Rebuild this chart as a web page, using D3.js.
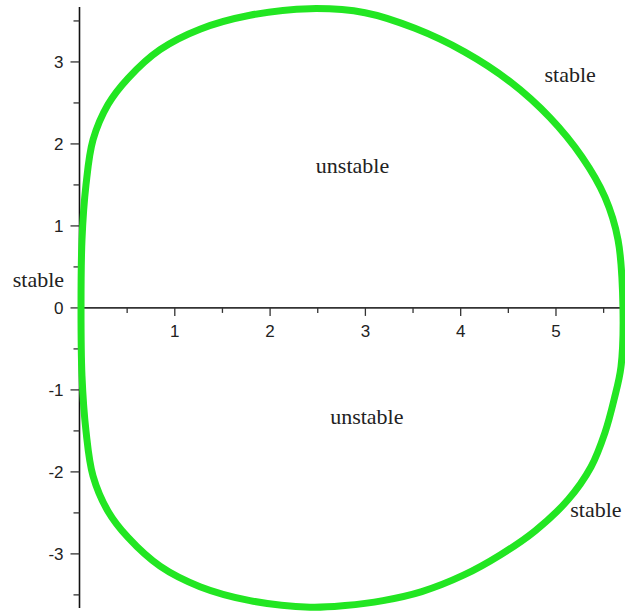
<!DOCTYPE html>
<html>
<head>
<meta charset="utf-8">
<script src="https://cdn.jsdelivr.net/npm/d3@7"></script>
<style>
  html, body { margin: 0; padding: 0; background: #fff; overflow: hidden; }
  svg { display: block; }
  .tick-label { font-family: "Liberation Sans", Arial, sans-serif; font-size: 17px; fill: #222; }
  .region-label { font-family: "Liberation Serif", "Times New Roman", serif; font-size: 22px; fill: #222; }
</style>
</head>
<body>
<svg id="chart" width="625" height="615"></svg>
<script>
// Boundary of the stability region: upper arc left to right, then lower arc right to left
const boundaryX = [
  0.016, 0.026, 0.068, 0.142, 0.299, 0.509, 0.845, 1.264, 1.789, 2.419, 2.996,
  3.520, 4.045, 4.517, 4.937, 5.273, 5.514, 5.651, 5.703,
  5.682, 5.609, 5.514, 5.367, 5.126, 4.780, 4.419, 4.029, 3.592, 3.185, 2.786,
  2.419, 1.789, 1.264, 0.845, 0.509, 0.299, 0.142, 0.068, 0.026
];
const boundaryY = [
  0.00, 0.83, 1.50, 2.05, 2.48, 2.80, 3.15, 3.40, 3.57, 3.65, 3.60,
  3.41, 3.12, 2.76, 2.32, 1.84, 1.35, 0.83, 0.00,
  -0.72, -1.12, -1.52, -1.94, -2.34, -2.72, -3.01, -3.26, -3.46, -3.57, -3.63,
  -3.65, -3.57, -3.40, -3.15, -2.80, -2.48, -2.05, -1.50, -0.83
];

// Axis ticks
const xMajorTicks = [1, 2, 3, 4, 5];
const xMajorLabels = ["1", "2", "3", "4", "5"];
const xMinorTicks = [0.5, 1.5, 2.5, 3.5, 4.5, 5.5];
const yMajorTicks = [-3, -2, -1, 0, 1, 2, 3];
const yMajorLabels = ["-3", "-2", "-1", "0", "1", "2", "3"];
const yMinorTicks = [-3.5, -2.5, -1.5, -0.5, 0.5, 1.5, 2.5, 3.5];

// Region annotations
const regionText = ["stable", "unstable", "stable", "unstable", "stable"];
const regionX = [4.88, 2.48, -0.7, 2.63, 5.15];
const regionY = [2.75, 1.65, 0.25, -1.42, -2.55];

const svg = d3.select("#chart");

const x = d3.scaleLinear().domain([0, 5.72]).range([79.5, 624.6]);
const y = d3.scaleLinear().domain([-3.66, 3.67]).range([608, 7]);

const axisColor = "#333";

// Horizontal axis
const xAxis = svg.append("g").attr("transform", `translate(0,${y(0)})`);
xAxis.append("line")
  .attr("x1", x(0)).attr("x2", 625)
  .attr("stroke", axisColor).attr("stroke-width", 1.6);
xAxis.selectAll("line.major").data(xMajorTicks).join("line")
  .attr("class", "major")
  .attr("x1", d => x(d)).attr("x2", d => x(d))
  .attr("y1", 0).attr("y2", 8)
  .attr("stroke", axisColor).attr("stroke-width", 1.3);
xAxis.selectAll("line.minor").data(xMinorTicks).join("line")
  .attr("class", "minor")
  .attr("x1", d => x(d)).attr("x2", d => x(d))
  .attr("y1", 0).attr("y2", 5)
  .attr("stroke", axisColor).attr("stroke-width", 1.3);
xAxis.selectAll("text").data(xMajorTicks).join("text")
  .attr("class", "tick-label")
  .attr("x", d => x(d)).attr("y", 29)
  .attr("text-anchor", "middle")
  .text((d, i) => xMajorLabels[i]);

// Vertical axis
const yAxis = svg.append("g").attr("transform", `translate(${x(0)},0)`);
yAxis.append("line")
  .attr("y1", y(3.67)).attr("y2", y(-3.66))
  .attr("stroke", "#111").attr("stroke-width", 1.6);
yAxis.selectAll("line.major").data(yMajorTicks).join("line")
  .attr("class", "major")
  .attr("y1", d => y(d)).attr("y2", d => y(d))
  .attr("x1", -9).attr("x2", 0)
  .attr("stroke", axisColor).attr("stroke-width", 1.3);
yAxis.selectAll("line.minor").data(yMinorTicks).join("line")
  .attr("class", "minor")
  .attr("y1", d => y(d)).attr("y2", d => y(d))
  .attr("x1", -6).attr("x2", 0)
  .attr("stroke", axisColor).attr("stroke-width", 1.3);
yAxis.selectAll("text").data(yMajorTicks).join("text")
  .attr("class", "tick-label")
  .attr("x", -16).attr("y", d => y(d) + 6)
  .attr("text-anchor", "end")
  .text((d, i) => yMajorLabels[i]);

// Stability boundary curve
const pts = boundaryX.map((v, i) => [v, boundaryY[i]]);
const line = d3.line()
  .x(d => x(d[0])).y(d => y(d[1]))
  .curve(d3.curveCatmullRomClosed.alpha(0.5));
svg.append("path")
  .attr("d", line(pts))
  .attr("fill", "none")
  .attr("stroke", "#22e622")
  .attr("stroke-width", 7)
  .attr("stroke-linejoin", "round");

// Region labels
svg.selectAll("text.region-label").data(regionText).join("text")
  .attr("class", "region-label")
  .attr("x", (d, i) => x(regionX[i]))
  .attr("y", (d, i) => y(regionY[i]))
  .text(d => d);
</script>
</body>
</html>
